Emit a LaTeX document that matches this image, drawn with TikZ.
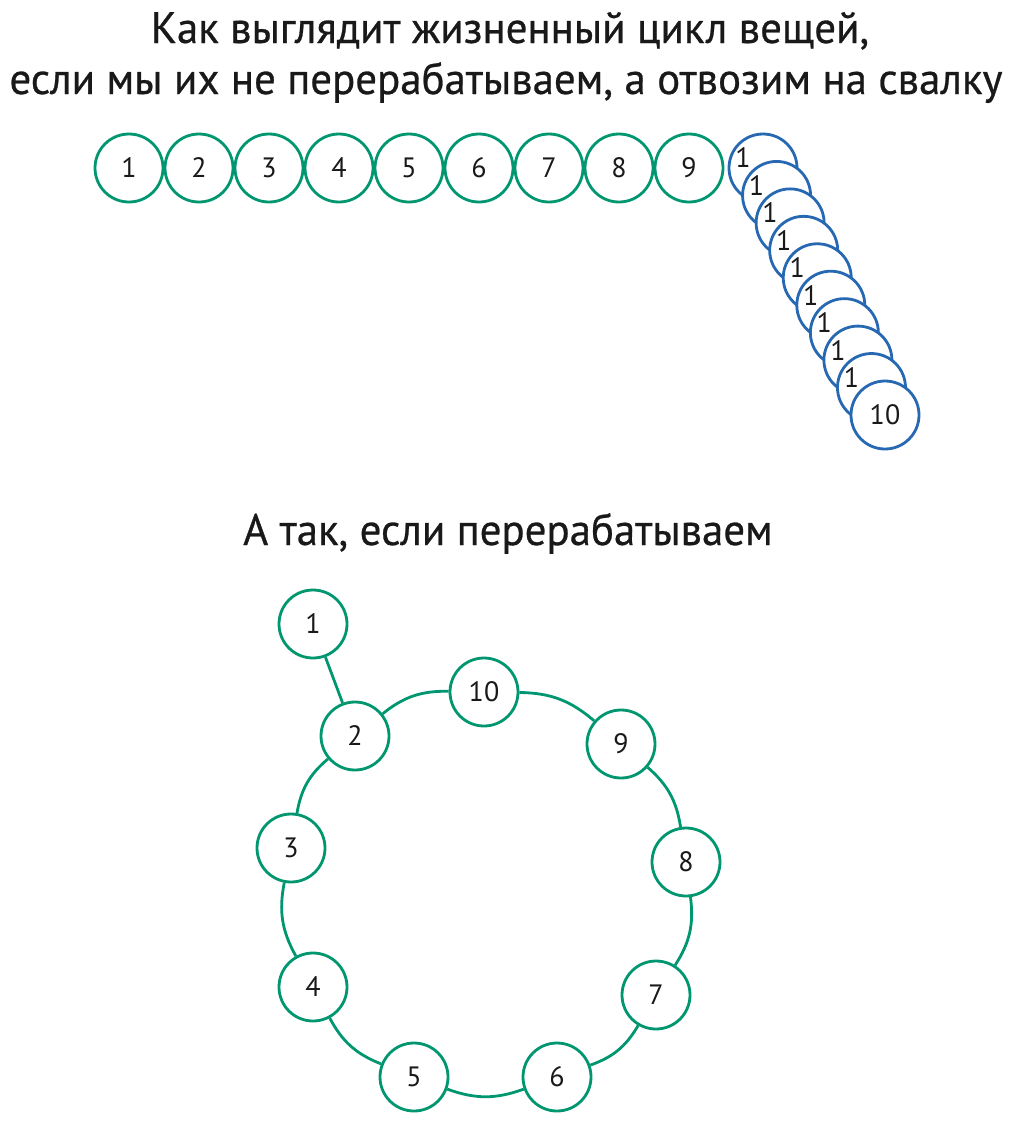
\documentclass[tikz,border=0pt]{standalone}
\usepackage{fontspec}
\setmainfont{PT Sans}
\newfontfamily\headfont{PT Sans}[FakeStretch=0.975,FakeBold=0.6]
\usetikzlibrary{calc}
\definecolor{ecogreen}{RGB}{0,150,112}
\definecolor{dumpblue}{RGB}{38,104,178}

\begin{document}
\begin{tikzpicture}[x=1pt,y=-1pt,
    item/.style={circle,draw=ecogreen,line width=2.8pt,minimum size=68pt,
      inner sep=0pt,fill=white,text=black!90,font=\fontsize{28}{30}\selectfont},
    waste/.style={item,draw=dumpblue},
    link/.style={draw=ecogreen,line width=2.8pt},
    title/.style={anchor=base,text=black!90,font=\headfont\fontsize{44}{50}\selectfont}]
    \useasboundingbox (0,0) rectangle (1019,1125);

    \node[title] (head1) at (510,43) {Как выглядит жизненный цикл вещей,};
    \node[title] (head2) at (506,94) {если мы их не перерабатываем, а отвозим на свалку};
    \node[title] (head3) at (508,545) {А так, если перерабатываем};

    % straight line of things
    \foreach \i in {1,...,9}
        \node[item] (t\i) at (59+70*\i,168) {\i};

    % the 10th ends up on the dump
    \foreach \i in {1,...,9} {
        \node[waste] (d\i) at (749.44+13.56*\i,140.56+27.44*\i) {};
        \node[text=black!90,font=\fontsize{28}{30}\selectfont] (l\i) at ($(d\i)+(-20,-10)$) {1};
    }
    \node[waste] (d10) at (885,415) {10};

    % recycling ring
    \foreach \i/\x/\y in {1/313/624,2/355/736,3/291/848,4/313/987,5/414/1077,
                          6/557/1077,7/656/995,8/686/862,9/621/744,10/484/692}
        \node[item] (r\i) at (\x,\y) {\i};

    \foreach \a/\b in {10/9,9/8,8/7,7/6,6/5,5/4,4/3,3/2,2/10}
        \draw[link] (r\a) to[bend left=20] (r\b);
    \draw[link] (r1) -- (r2);
\end{tikzpicture}
\end{document}
